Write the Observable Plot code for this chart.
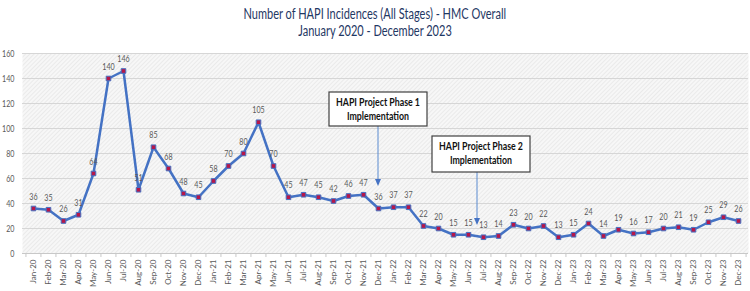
<!DOCTYPE html>
<html>
<head>
<meta charset="utf-8">
<script src="https://cdn.jsdelivr.net/npm/d3@7"></script>
<script src="https://cdn.jsdelivr.net/npm/@observablehq/plot@0.6"></script>
<style>
  body { margin: 0; background: #fff; width: 750px; overflow: hidden; }
  .title { height: 44px; box-sizing: border-box; padding-top: 6px; text-align: center;
    font-family: Lato, sans-serif; font-size: 14.5px; line-height: 16.5px; color: #1f3864; }
  .title span { display: inline-block; transform: scaleX(0.76); transform-origin: center; white-space: nowrap; }
  #chart svg { display: block; }
</style>
</head>
<body>
<div class="title"><span>Number of HAPI Incidences (All Stages) - HMC Overall</span><br><span>January 2020 - December 2023</span></div>
<div id="chart"></div>
<script>
const months = ["Jan-20","Feb-20","Mar-20","Apr-20","May-20","Jun-20","Jul-20","Aug-20","Sep-20","Oct-20","Nov-20","Dec-20",
  "Jan-21","Feb-21","Mar-21","Apr-21","May-21","Jun-21","Jul-21","Aug-21","Sep-21","Oct-21","Nov-21","Dec-21",
  "Jan-22","Feb-22","Mar-22","Apr-22","May-22","Jun-22","Jul-22","Aug-22","Sep-22","Oct-22","Nov-22","Dec-22",
  "Jan-23","Feb-23","Mar-23","Apr-23","May-23","Jun-23","Jul-23","Aug-23","Sep-23","Oct-23","Nov-23","Dec-23"];
const incidences = [36,35,26,31,64,140,146,51,85,68,48,45,
  58,70,80,105,70,45,47,45,42,46,47,36,
  37,37,22,20,15,15,13,14,23,20,22,13,
  15,24,14,19,16,17,20,21,19,25,29,26];
const yTicks = [0,20,40,60,80,100,120,140,160];
const annotationMonths = ["Dec-21","Jul-22"];
const annotationLines = [["HAPI Project Phase 1","Implementation"],["HAPI Project Phase 2","Implementation"]];
const annotationBoxTop = [128.8, 93.6];
const annotationBoxBottom = [101.6, 64.8];
const annotationTip = [53.6, 22.4];

const data = months.map((m, i) => ({month: m, value: incidences[i]}));
const font = 'Lato, sans-serif';
const gray = "#595959";

function annotations(index, scales) {
  const g = d3.create("svg:g");
  annotationMonths.forEach((m, i) => {
    const bx = scales.x(m) + (i === 1 ? -2 : 0);
    const ax = scales.x(m) + (i === 1 ? -6 : 0);
    const yt = scales.y(annotationBoxTop[i]), yb = scales.y(annotationBoxBottom[i]);
    const tip = scales.y(annotationTip[i]);
    const w = 98;
    g.append("line").attr("x1", ax).attr("x2", ax).attr("y1", yb).attr("y2", tip - 6)
      .attr("stroke", "#5b8bd0").attr("stroke-width", 1);
    g.append("path").attr("d", `M${ax - 3},${tip - 7}L${ax + 3},${tip - 7}L${ax},${tip}Z`).attr("fill", "#4472c4");
    g.append("rect").attr("x", bx - w / 2).attr("y", yt).attr("width", w).attr("height", yb - yt)
      .attr("fill", "#fff").attr("stroke", "#404040").attr("stroke-width", 1.2);
    annotationLines[i].forEach((t, j) => {
      g.append("text").attr("class", "cond80").attr("x", bx).attr("y", yt + 10.7 + j * 13.6).attr("dy", "0.32em")
        .attr("text-anchor", "middle").attr("font-family", font).attr("font-weight", "bold")
        .attr("font-size", 11).attr("fill", "#111").text(t);
    });
  });
  return g.node();
}

const plot = Plot.plot({
  width: 750, height: 247,
  marginTop: 9, marginBottom: 38, marginLeft: 22, marginRight: 2,
  style: {fontFamily: font, background: "transparent"},
  x: {type: "point", domain: months, padding: 0.5},
  y: {domain: [0, 160]},
  marks: [
    Plot.frame({fill: "url(#hatch)", stroke: "none"}),
    Plot.gridY(yTicks.filter(d => d > 0), {stroke: "#d6d6d6", strokeOpacity: 1}),
    Plot.ruleY([0], {stroke: "#c8c8c8"}),
    Plot.ruleX(months, {x: d => d, dx: -7.5625, y1: 0, y2: -3.2, stroke: "#c8c8c8"}),
    Plot.ruleX([months[months.length - 1]], {x: d => d, dx: 7.5625, y1: 0, y2: -3.2, stroke: "#c8c8c8"}),
    Plot.axisY(yTicks, {tickSize: 0, tickPadding: 8, fontSize: 9.5, fill: gray, label: null, className: "yax"}),
    Plot.axisX({tickRotate: -90, tickSize: 0, tickPadding: 6, fontSize: 8, fill: gray, label: null}),
    Plot.line(data, {x: "month", y: "value", stroke: "#4472c4", strokeWidth: 2.5}),
    Plot.dot(data, {x: "month", y: "value", symbol: "square", r: 2.6, fill: "#b5174a", stroke: "#4472c4", strokeWidth: 1}),
    Plot.text(data, {x: "month", y: "value", text: d => String(d.value), dy: -12, fontSize: 9.5, fill: gray, className: "vlab"}),
    annotations
  ]
});

const defs = d3.select(plot).insert("defs", ":first-child");
const pat = defs.append("pattern").attr("id", "hatch").attr("patternUnits", "userSpaceOnUse")
  .attr("width", 3).attr("height", 3).attr("patternTransform", "rotate(45)");
pat.append("rect").attr("width", 3).attr("height", 3).attr("fill", "#f7f7f7");
pat.append("line").attr("x1", 0).attr("y1", 0).attr("x2", 0).attr("y2", 3)
  .attr("stroke", "#e2e2e2").attr("stroke-width", 1.2);

document.getElementById("chart").appendChild(plot);

function condense(sel, k) {
  sel.each(function() {
    const len = this.getComputedTextLength();
    if (len > 0) {
      this.setAttribute("textLength", len * k);
      this.setAttribute("lengthAdjust", "spacingAndGlyphs");
    }
  });
}
condense(d3.select(plot).selectAll(".yax text"), 0.75);
condense(d3.select(plot).selectAll(".vlab text"), 0.75);
condense(d3.select(plot).selectAll("text.cond80"), 0.8);
</script>
</body>
</html>
